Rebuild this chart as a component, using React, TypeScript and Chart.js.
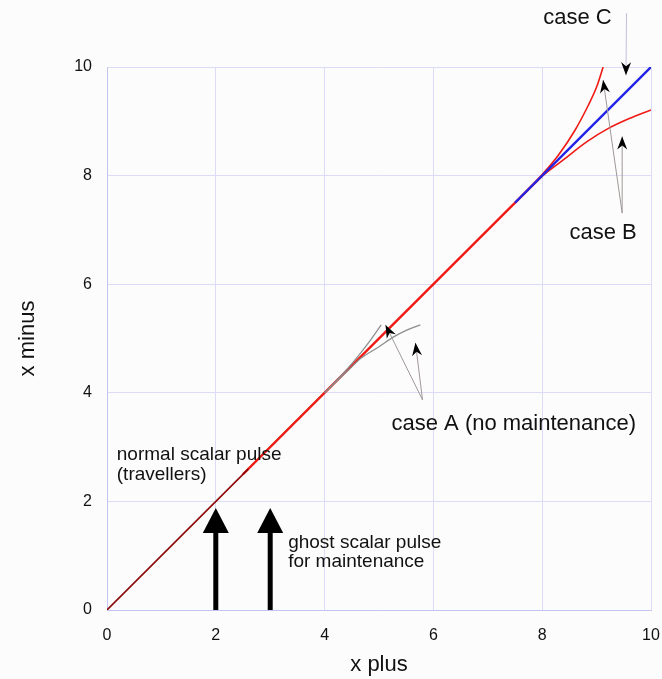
import React, { useEffect, useRef } from "react";
import { Chart, registerables } from "chart.js";
Chart.register(...registerables);

// axis
const tickValues = [0, 2, 4, 6, 8, 10];

// normal scalar pulse (dark part near origin)
const pulseDarkX = [0, 2.6];
const pulseDarkY = [0, 2.6];
// thin black overlay
const pulseBlackX = [2.5, 4.4];
const pulseBlackY = [2.5, 4.4];
// main red diagonal
const mainX = [2.5, 8];
const mainY = [2.5, 8];
// case C (blue)
const caseCX = [7.5, 10];
const caseCY = [7.5, 10];
// case B upper / lower
const caseBUpX = [7.6, 8.0, 8.3, 8.6, 8.85, 9.0, 9.12];
const caseBUpY = [7.6, 8.02, 8.38, 8.83, 9.3, 9.63, 10];
const caseBLoX = [7.6, 8.0, 8.4, 8.83, 9.2, 9.6, 10];
const caseBLoY = [7.6, 7.99, 8.3, 8.63, 8.86, 9.05, 9.21];
// case A (gray) upper / lower
const caseAUpX = [4.0, 4.4, 4.66, 4.85, 5.04];
const caseAUpY = [4.0, 4.42, 4.73, 4.98, 5.25];
const caseALoX = [4.0, 4.4, 4.66, 5.0, 5.27, 5.5, 5.76];
const caseALoY = [4.0, 4.38, 4.63, 4.85, 5.03, 5.15, 5.25];

// annotations (data coords)
const labelsText = ["case A (no maintenance)", "case B", "case C"];
const labelsX = [5.23, 8.5, 8.02];
const labelsY = [3.43, 6.94, 10.9];
const smallLabelText = ["normal scalar pulse", "(travellers)", "ghost scalar pulse", "for maintenance"];
const smallLabelX = [0.18, 0.18, 3.33, 3.33];
const smallLabelY = [2.85, 2.49, 1.23, 0.88];
// thin arrows: from -> to
const arrowFromX = [5.8, 5.8, 9.47, 9.47, 9.55];
const arrowFromY = [3.87, 3.87, 7.31, 7.31, 10.99];
const arrowToX = [5.12, 5.67, 9.12, 9.47, 9.54];
const arrowToY = [5.25, 4.92, 9.76, 8.72, 9.85];
// big pulse arrows
const bigArrowX = [2, 3];
const bigArrowFromY = [0, 0];
const bigArrowToY = [1.88, 1.88];

const FONT = "'Liberation Sans', Arial, Helvetica, sans-serif";

function pts(xs: number[], ys: number[]) {
  return xs.map((x, i) => ({ x, y: ys[i] }));
}

function drawHead(ctx: CanvasRenderingContext2D, x1: number, y1: number, x2: number, y2: number, len: number, half: number, notch: number) {
  const ang = Math.atan2(y2 - y1, x2 - x1);
  const c = Math.cos(ang), s = Math.sin(ang);
  const bx = x2 - c * len, by = y2 - s * len;
  const nx = x2 - c * (len - notch), ny = y2 - s * (len - notch);
  ctx.beginPath();
  ctx.moveTo(x2, y2);
  ctx.lineTo(bx - s * half, by + c * half);
  ctx.lineTo(nx, ny);
  ctx.lineTo(bx + s * half, by - c * half);
  ctx.closePath();
  ctx.fill();
}

const annotationPlugin = {
  id: "annot",
  afterDatasetsDraw(chart: any) {
    const { ctx, scales } = chart;
    const xs = scales.x, ys = scales.y;
    const px = (v: number) => xs.getPixelForValue(v);
    const py = (v: number) => ys.getPixelForValue(v);
    ctx.save();
    // thin arrows
    for (let i = 0; i < arrowFromX.length; i++) {
      const x1 = px(arrowFromX[i]), y1 = py(arrowFromY[i]);
      const x2 = px(arrowToX[i]), y2 = py(arrowToY[i]);
      ctx.strokeStyle = i === 4 ? "#c0c0dc" : "#a09898";
      ctx.lineWidth = 1;
      ctx.beginPath();
      ctx.moveTo(x1, y1);
      ctx.lineTo(x2, y2);
      ctx.stroke();
      ctx.fillStyle = "#000";
      drawHead(ctx, x1, y1, x2, y2, 13, 5, 4);
    }
    // big arrows
    for (let i = 0; i < bigArrowX.length; i++) {
      const x = px(bigArrowX[i]);
      const y1 = py(bigArrowFromY[i]), y2 = py(bigArrowToY[i]);
      ctx.strokeStyle = "#000";
      ctx.lineWidth = 5;
      ctx.beginPath();
      ctx.moveTo(x, y1);
      ctx.lineTo(x, y2 + 20);
      ctx.stroke();
      ctx.fillStyle = "#000";
      ctx.beginPath();
      ctx.moveTo(x, y2);
      ctx.lineTo(x - 13, y2 + 25);
      ctx.lineTo(x + 13, y2 + 25);
      ctx.closePath();
      ctx.fill();
    }
    // labels
    ctx.fillStyle = "#111";
    ctx.textBaseline = "middle";
    ctx.textAlign = "left";
    ctx.font = `22px ${FONT}`;
    for (let i = 0; i < labelsText.length; i++) {
      ctx.fillText(labelsText[i], px(labelsX[i]), py(labelsY[i]));
    }
    ctx.font = `19px ${FONT}`;
    for (let i = 0; i < smallLabelText.length; i++) {
      ctx.fillText(smallLabelText[i], px(smallLabelX[i]), py(smallLabelY[i]));
    }
    ctx.restore();
  },
};

const bgPlugin = {
  id: "bg",
  beforeDraw(chart: any) {
    const { ctx, width, height } = chart;
    ctx.save();
    ctx.fillStyle = "#fcfcfc";
    ctx.fillRect(0, 0, width, height);
    ctx.restore();
  },
};

export default function App() {
  const ref = useRef<HTMLCanvasElement | null>(null);
  useEffect(() => {
    document.body.style.margin = "0";
    if (!ref.current) return;
    const line = (data: any, color: string, width: number) => ({
      data,
      borderColor: color,
      borderWidth: width,
      pointRadius: 0,
      showLine: true,
      fill: false,
      tension: 0.4,
      cubicInterpolationMode: "monotone",
    });
    const chart = new Chart(ref.current, {
      type: "scatter",
      data: {
        datasets: [
          line(pts(caseAUpX, caseAUpY), "#8c8c8c", 1.2),
          line(pts(caseALoX, caseALoY), "#8c8c8c", 1.2),
          line(pts(pulseDarkX, pulseDarkY), "#8b0a0a", 1.6),
          line(pts(caseCX, caseCY), "#2424e6", 2.4),
          line(pts(caseBUpX, caseBUpY), "#f01a14", 1.6),
          line(pts(caseBLoX, caseBLoY), "#f01a14", 1.6),
          line(pts(mainX, mainY), "#f01a14", 2.4),
          line(pts(pulseBlackX, pulseBlackY), "#1a0000", 1.3),
        ] as any,
      },
      options: {
        animation: false,
        responsive: false,
        maintainAspectRatio: false,
        events: [],
        layout: { padding: { left: 0, right: 11, top: 67, bottom: 0 } },
        plugins: { legend: { display: false }, tooltip: { enabled: false } },
        scales: {
          x: {
            type: "linear",
            min: 0,
            max: 10,
            afterBuildTicks: (s: any) => {
              s.ticks = tickValues.map((v) => ({ value: v }));
            },
            afterFit: (s: any) => {
              s.height = 69;
              s.paddingLeft = 0;
              s.paddingRight = 0;
            },
            grid: { color: "#dcdcf6", drawTicks: false, lineWidth: 1 },
            border: { color: "#c4c4f0", width: 1 },
            ticks: { color: "#111", padding: 16, font: { family: FONT, size: 16 } },
            title: { display: true, text: "x plus", color: "#111", font: { family: FONT, size: 22 }, padding: { top: 0, bottom: 1 } },
          },
          y: {
            type: "linear",
            min: 0,
            max: 10,
            afterBuildTicks: (s: any) => {
              s.ticks = tickValues.map((v) => ({ value: v }));
            },
            afterFit: (s: any) => {
              s.width = 107;
              s.paddingTop = 0;
              s.paddingBottom = 0;
            },
            grid: { color: "#dcdcf6", drawTicks: false, lineWidth: 1 },
            border: { color: "#c4c4f0", width: 1 },
            ticks: { color: "#111", padding: 15, font: { family: FONT, size: 16 } },
            title: { display: true, text: "x minus", color: "#111", font: { family: FONT, size: 22 }, padding: { top: 15, bottom: 0 } },
          },
        },
      },
      plugins: [bgPlugin, annotationPlugin],
    } as any);
    return () => chart.destroy();
  }, []);
  return (
    <div style={{ position: "absolute", left: 0, top: 0, width: 662, height: 679 }}>
      <canvas ref={ref} width={662} height={679} style={{ display: "block", width: 662, height: 679 }} />
    </div>
  );
}
